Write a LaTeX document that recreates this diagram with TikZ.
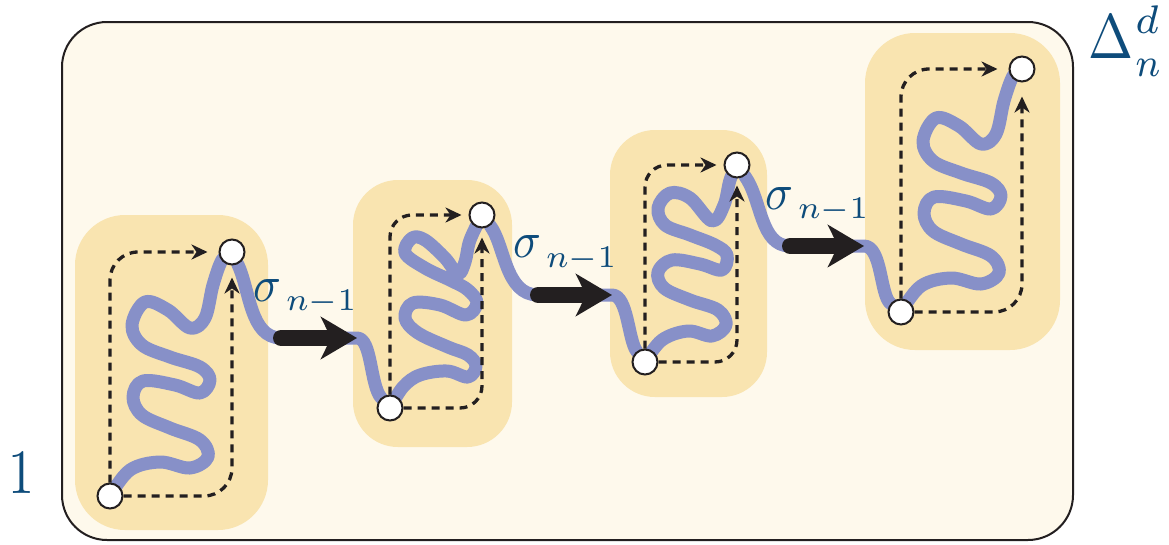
\RequirePackage{fix-cm}
\documentclass[tikz,border=0pt]{standalone}
\usetikzlibrary{arrows.meta}
\definecolor{cream}{HTML}{FEF9EC}
\definecolor{blockc}{HTML}{F9E4B0}
\definecolor{wig}{HTML}{8790C8}
\definecolor{ink}{HTML}{231F20}
\definecolor{lab}{HTML}{0E4C7B}
\pgfdeclarelayer{bg}
\pgfsetlayers{bg,main}
\newcommand{\subnm}{\scalebox{4.6}[4.5]{$\scriptstyle n{-}1$}}
\begin{document}
\begin{tikzpicture}[x=1pt,y=-1pt,
  wiggle/.style={draw=wig, line width=13pt, line cap=round, line join=round},
  dpath/.style={draw=ink, line width=3.3pt, dash pattern=on 8pt off 6pt, -{Stealth[length=16pt,width=15pt,inset=5pt]}},
  bigarrow/.style={draw=ink, line width=16pt, line cap=round, -{Stealth[length=36pt,width=42pt,inset=10pt]}},
  dot/.style={circle, draw=ink, fill=white, line width=2pt, minimum size=25pt, inner sep=0pt},
  blockbox/.style={fill=blockc},
  lbl/.style={text=lab, inner sep=0pt, anchor=base west, font=\fontsize{10}{12}\selectfont}]
\useasboundingbox (0,0) rectangle (1169,544);
% circles
\node[dot] (b1) at (110,496) {};
\node[dot] (t1) at (232,252) {};
\node[dot] (b2) at (390,408) {};
\node[dot] (t2) at (482,215) {};
\node[dot] (b3) at (645,362) {};
\node[dot] (t3) at (737,165) {};
\node[dot] (b4) at (901,312) {};
\node[dot] (t4) at (1022,69) {};
\coordinate (a1s) at (281,338); \coordinate (a1e) at (357,338);
\coordinate (a2s) at (538,295); \coordinate (a2e) at (612,295);
\coordinate (a3s) at (790,246); \coordinate (a3e) at (864,246);
\begin{pgfonlayer}{bg}
\draw[ink, line width=2pt, fill=cream, rounded corners=45pt] (62,22) rectangle (1073,540);
\fill[blockbox, rounded corners=50pt] (75,215) rectangle (268,530);
\fill[blockbox, rounded corners=45pt] (353,180) rectangle (512,447);
\fill[blockbox, rounded corners=45pt] (610,130) rectangle (767,397);
\fill[blockbox, rounded corners=50pt] (865,33) rectangle (1060,350);
% wiggles
\draw[wiggle] plot[smooth, tension=0.6] coordinates {(b1) (130,470) (160,462) (190,468) (208,457) (200,440) (170,428) (142,415) (133,397) (143,381) (175,385) (200,393) (210,380) (200,367) (170,357) (142,345) (132,325) (145,302) (168,310) (190,328) (205,318) (213,285) (222,260) (t1)};
\draw[wiggle] plot[smooth, tension=0.6] coordinates {(b2) (403,387) (420,375) (447,371) (468,377) (476,366) (468,355) (448,347) (418,333) (405,318) (413,303) (440,305) (466,315) (477,303) (468,290) (452,281) (425,268) (405,253) (412,238) (425,240) (445,258) (458,274) (465,262) (470,240) (t2)};
\draw[wiggle] plot[smooth, tension=0.6] coordinates {(b3) (662,340) (688,331) (712,336) (726,325) (718,310) (690,300) (664,288) (658,272) (672,260) (700,264) (722,270) (727,255) (715,245) (690,235) (665,225) (658,208) (670,193) (690,198) (712,221) (724,205) (730,180) (t3)};
\draw[wiggle] plot[smooth, tension=0.6] coordinates {(b4) (921,286) (951,278) (981,284) (999,273) (991,256) (961,244) (933,231) (924,213) (934,197) (966,201) (991,209) (1001,196) (991,183) (961,173) (933,161) (923,141) (936,118) (959,126) (981,144) (996,134) (1004,101) (1013,76) (t4)};
% connectors
\draw[wiggle] (t1) .. controls (250,290) and (250,338) .. (a1s) -- (a1e) .. controls (372,338) and (370,385) .. (b2);
\draw[wiggle] (t2) .. controls (505,245) and (505,295) .. (a2s) -- (a2e) .. controls (628,295) and (628,340) .. (b3);
\draw[wiggle] (t3) .. controls (762,200) and (760,246) .. (a3s) -- (a3e) .. controls (882,246) and (880,295) .. (b4);
% dashed
\draw[dpath, rounded corners=28pt, shorten >=11pt] (b1.north) |- (t1.west);
\draw[dpath, rounded corners=28pt, shorten >=12pt] (b1.east) -| (t1.south);
\draw[dpath, rounded corners=22pt, shorten >=7pt] (b2.north) |- (t2.west);
\draw[dpath, rounded corners=22pt, shorten >=9pt] (b2.east) -| (t2.south);
\draw[dpath, rounded corners=22pt, shorten >=7pt] (b3.north) |- (t3.west);
\draw[dpath, rounded corners=22pt, shorten >=7pt] (b3.east) -| (t3.south);
\draw[dpath, rounded corners=28pt, shorten >=11pt] (b4.north) |- (t4.west);
\draw[dpath, rounded corners=28pt, shorten >=14pt] (b4.east) -| (t4.south);
% big arrows
\draw[bigarrow] (a1s) -- (a1e);
\draw[bigarrow] (a2s) -- (a2e);
\draw[bigarrow] (a3s) -- (a3e);
\end{pgfonlayer}
% labels
\node[lbl] (s1) at (253,301) {\scalebox{4.6}[5.1]{$\sigma$}};
\node[lbl] (s1n) at (286,310) {\subnm};
\node[lbl] (s2) at (513,257) {\scalebox{4.6}[5.1]{$\sigma$}};
\node[lbl] (s2n) at (546,267) {\subnm};
\node[lbl] (s3) at (765,209) {\scalebox{4.6}[5.1]{$\sigma$}};
\node[lbl] (s3n) at (798,218) {\subnm};
\node[lbl] (one) at (8,493) {\scalebox{5.2}[6.3]{1}};
\node[lbl] (delta) at (1088,58) {\scalebox{5.4}[6.3]{$\Delta$}\kern2pt\rlap{\raisebox{25pt}{\scalebox{5.7}{$\scriptstyle d$}}}\raisebox{-18pt}{\scalebox{5.2}[5.7]{$\scriptstyle n$}}};
\end{tikzpicture}
\end{document}
